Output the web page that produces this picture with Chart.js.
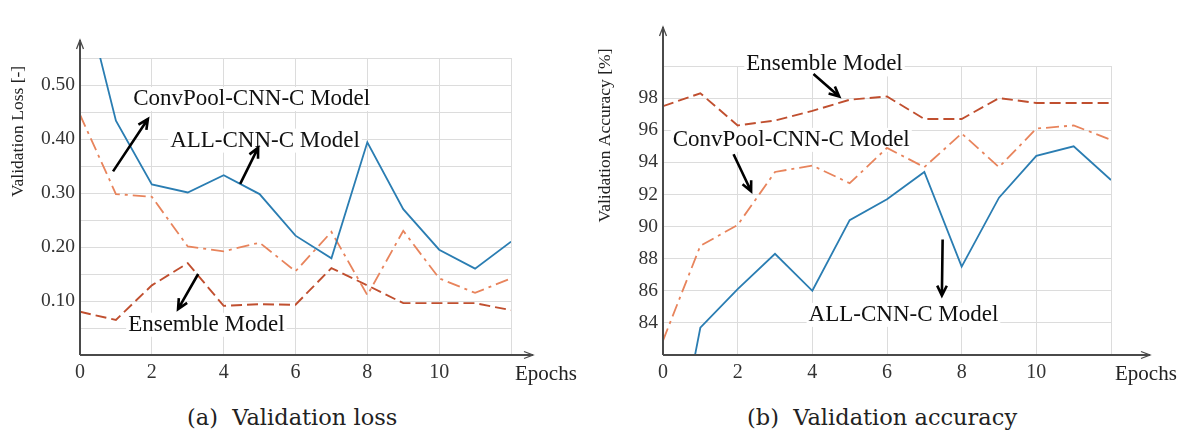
<!DOCTYPE html>
<html>
<head>
<meta charset="utf-8">
<script src="https://cdn.jsdelivr.net/npm/chart.js@4"></script>
<style>
  body { margin: 0; background: #fff; }
  #wrap { position: relative; width: 1177px; height: 435px; }
  canvas { position: absolute; top: 0; }
  .cap { position: absolute; top: 404px; font: 22.5px "DejaVu Serif", serif; color: #222; white-space: pre; }
</style>
</head>
<body>
<div id="wrap">
  <canvas id="lossChart" width="590" height="390" style="left:0"></canvas>
  <canvas id="accChart" width="587" height="390" style="left:590px"></canvas>
  <div class="cap" style="left:187px">(a)  Validation loss</div>
  <div class="cap" style="left:747px">(b)  Validation accuracy</div>
</div>
<script>
// epochs on the x axis (both panels)
const epochs = [0, 1, 2, 3, 4, 5, 6, 7, 8, 9, 10, 11, 12];

// validation loss (left panel)
const lossAllCnn   = [0.70, 0.434, 0.316, 0.301, 0.333, 0.298, 0.221, 0.179, 0.394, 0.270, 0.195, 0.160, 0.210];
const lossConvPool = [0.445, 0.298, 0.293, 0.201, 0.192, 0.208, 0.155, 0.228, 0.111, 0.230, 0.142, 0.115, 0.142];
const lossEnsemble = [0.080, 0.065, 0.129, 0.170, 0.091, 0.094, 0.093, 0.161, 0.129, 0.096, 0.096, 0.096, 0.083];

// validation accuracy in % (right panel)
const accAllCnn   = [71.7, 83.7, 86.1, 88.3, 86.0, 90.4, 91.7, 93.4, 87.5, 91.8, 94.4, 95.0, 92.9];
const accConvPool = [82.9, 88.8, 90.1, 93.4, 93.8, 92.7, 94.9, 93.7, 95.8, 93.7, 96.1, 96.3, 95.4];
const accEnsemble = [97.5, 98.3, 96.3, 96.6, 97.2, 97.9, 98.1, 96.7, 96.7, 98.0, 97.7, 97.7, 97.7];

// annotation labels + arrows, placed in data units [x, y]
const lossNotes = [
  { text: 'ConvPool-CNN-C Model', at: [1.48, 0.474], from: [0.92, 0.340], to: [1.89, 0.437] },
  { text: 'ALL-CNN-C Model',      at: [2.51, 0.397], from: [4.46, 0.317], to: [4.96, 0.384] },
  { text: 'Ensemble Model',       at: [1.34, 0.056], from: [3.29, 0.150], to: [2.73, 0.085] }
];
const accNotes = [
  { text: 'Ensemble Model',       at: [2.23, 100.1], from: [4.03, 99.5], to: [4.72, 98.1] },
  { text: 'ConvPool-CNN-C Model', at: [0.26, 95.4],  from: [1.89, 94.5], to: [2.36, 92.2] },
  { text: 'ALL-CNN-C Model',      at: [3.90, 84.5],  from: [7.49, 89.2], to: [7.47, 85.7] }
];

const BLUE = '#2a7db2';     // all-cnn
const ORANGE = '#e8845c';   // convpool
const RED = '#c04f2f';      // ensemble
const SERIF = '"Liberation Serif", "Times New Roman", serif';

const pts = ys => epochs.map((e, i) => ({ x: e, y: ys[i] }));

function arrow(ctx, x1, y1, x2, y2) {
  const a = Math.atan2(y2 - y1, x2 - x1);
  const h = 11;
  ctx.beginPath();
  ctx.moveTo(x1, y1);
  ctx.lineTo(x2, y2);
  ctx.moveTo(x2 - h * Math.cos(a - 0.45), y2 - h * Math.sin(a - 0.45));
  ctx.lineTo(x2, y2);
  ctx.lineTo(x2 - h * Math.cos(a + 0.45), y2 - h * Math.sin(a + 0.45));
  ctx.stroke();
}

// draws axis arrows, titles, "Epochs" and the model annotations
function decoPlugin(notes, yTitle, yTitleX, axisTop, axisRight) {
  return {
    id: 'deco',
    beforeDatasetsDraw(chart) {
      const { ctx, scales: { x, y } } = chart;
      ctx.save();
      ctx.font = '23px ' + SERIF;
      ctx.textBaseline = 'middle';
      notes.forEach(n => {
        const px = x.getPixelForValue(n.at[0]), py = y.getPixelForValue(n.at[1]);
        const w = ctx.measureText(n.text).width;
        ctx.fillStyle = '#fff';
        ctx.fillRect(px - 2, py - 12, w + 4, 24);
        ctx.fillStyle = '#111';
        ctx.fillText(n.text, px, py);
      });
      ctx.restore();
    },
    afterDraw(chart) {
      const { ctx, chartArea: ca, scales: { x, y } } = chart;
      ctx.save();
      // axes with arrow heads
      ctx.strokeStyle = '#4a4a4a';
      ctx.lineWidth = 2;
      ctx.beginPath();
      ctx.moveTo(ca.left, ca.bottom); ctx.lineTo(ca.left, axisTop);
      ctx.moveTo(ca.left, ca.bottom); ctx.lineTo(axisRight, ca.bottom);
      ctx.stroke();
      ctx.beginPath();
      ctx.moveTo(ca.left - 3.5, axisTop + 9); ctx.lineTo(ca.left, axisTop); ctx.lineTo(ca.left + 3.5, axisTop + 9);
      ctx.moveTo(axisRight - 9, ca.bottom - 3.5); ctx.lineTo(axisRight, ca.bottom); ctx.lineTo(axisRight - 9, ca.bottom + 3.5);
      ctx.lineWidth = 1.3;
      ctx.stroke();

      // annotation arrows
      ctx.strokeStyle = '#000';
      ctx.lineWidth = 2.6;
      notes.forEach(n => arrow(ctx,
        x.getPixelForValue(n.from[0]), y.getPixelForValue(n.from[1]),
        x.getPixelForValue(n.to[0]), y.getPixelForValue(n.to[1])));

      // texts
      ctx.fillStyle = '#222';
      ctx.font = '21px ' + SERIF;
      ctx.textBaseline = 'middle';
      ctx.textAlign = 'left';
      ctx.fillText('Epochs', ca.right + 4, ca.bottom + 19);
      ctx.translate(yTitleX, (ca.top + ca.bottom) / 2 - 75);
      ctx.rotate(-Math.PI / 2);
      ctx.textAlign = 'center';
      ctx.font = '17.5px ' + SERIF;
      ctx.fillText(yTitle, 0, 0);
      ctx.restore();
    }
  };
}

function makeChart(id, sets, opts) {
  const ds = [
    { label: 'ALL-CNN-C Model', data: pts(sets[0]), borderColor: BLUE, borderWidth: 1.8 },
    { label: 'ConvPool-CNN-C Model', data: pts(sets[1]), borderColor: ORANGE, borderWidth: 1.8, borderDash: [13, 5, 3, 5] },
    { label: 'Ensemble Model', data: pts(sets[2]), borderColor: RED, borderWidth: 1.9, borderDash: [11, 5] }
  ];
  ds.forEach(d => { d.pointRadius = 0; d.tension = 0; d.fill = false; });

  return new Chart(document.getElementById(id), {
    type: 'line',
    data: { datasets: ds },
    options: {
      responsive: false,
      animation: false,
      layout: { padding: opts.padding },
      plugins: { legend: { display: false }, tooltip: { enabled: false } },
      scales: {
        x: {
          type: 'linear', min: 0, max: 12,
          border: { display: false },
          grid: { color: '#dcdcdc', lineWidth: 1, drawTicks: false },
          ticks: {
            stepSize: 2, padding: 6, color: '#333',
            font: { family: SERIF, size: 20 },
            callback: v => (v < 12 ? String(v) : '')
          },
          afterFit: s => { s.height = 35; }
        },
        y: {
          min: opts.yMin, max: opts.yMax,
          border: { display: false },
          grid: { color: '#dcdcdc', lineWidth: 1, drawTicks: false },
          ticks: {
            stepSize: opts.yStep, padding: 5, color: '#333',
            font: { family: SERIF, size: 19.5 },
            callback: opts.yLabel
          },
          afterFit: s => { s.width = opts.yWidth; }
        }
      }
    },
    plugins: [decoPlugin(opts.notes, opts.yTitle, opts.yTitleX, opts.axisTop, opts.axisRight)]
  });
}

makeChart('lossChart', [lossAllCnn, lossConvPool, lossEnsemble], {
  yMin: 0, yMax: 0.55, yStep: 0.05, yWidth: 80,
  padding: { left: 0, top: 58, right: 79, bottom: 0 },
  yLabel: v => { const k = Math.round(v * 100); return (k > 0 && k % 10 === 0 && k < 55) ? (k / 100).toFixed(2) : ''; },
  notes: lossNotes, yTitle: 'Validation Loss [-]', yTitleX: 18, axisTop: 40, axisRight: 533
});

makeChart('accChart', [accAllCnn, accConvPool, accEnsemble], {
  yMin: 82, yMax: 100, yStep: 2, yWidth: 73,
  padding: { left: 0, top: 66, right: 66, bottom: 0 },
  yLabel: v => (v > 82 && v < 100 ? String(v) : ''),
  notes: accNotes, yTitle: 'Validation Accuracy [%]', yTitleX: 15, axisTop: 27, axisRight: 560
});
</script>
</body>
</html>
